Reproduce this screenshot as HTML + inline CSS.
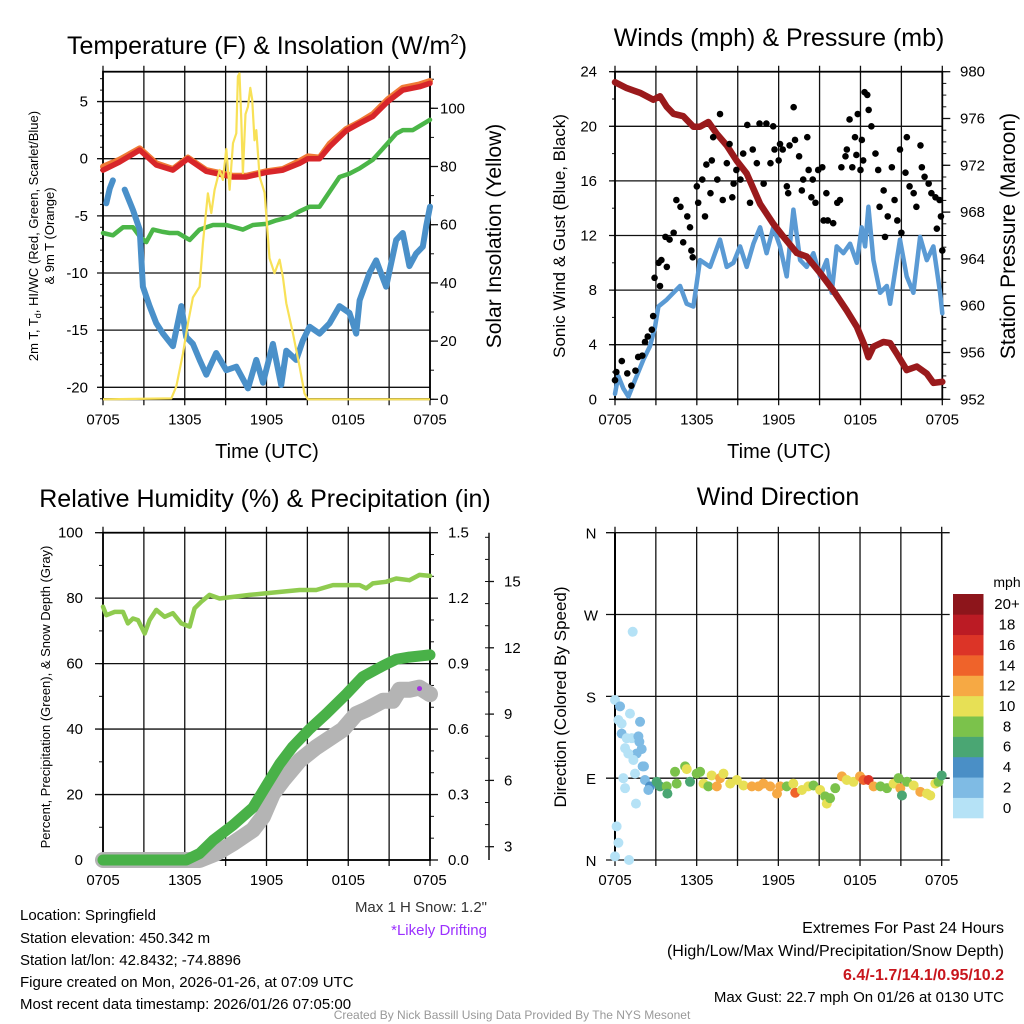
<!DOCTYPE html>
<html><head><meta charset="utf-8">
<style>
html,body{margin:0;padding:0;background:#fff;}
svg{display:block;font-family:"Liberation Sans",Arial,sans-serif;}
</style></head>
<body>
<svg id="chart" width="1024" height="1024" viewBox="0 0 1024 1024" xmlns="http://www.w3.org/2000/svg">
<rect x="0" y="0" width="1024" height="1024" fill="#fff"/>
<g id="p1"></g>
<g id="p2"></g>
<g id="p3"></g>
<g id="p4"></g>
<g id="txt" font-size="15" fill="#000">
<text x="267" y="54" text-anchor="middle" font-size="25">Temperature (F) &amp; Insolation (W/m<tspan font-size="15" dy="-10">2</tspan><tspan dy="10">)</tspan></text>
<text x="779" y="46" text-anchor="middle" font-size="25">Winds (mph) &amp; Pressure (mb)</text>
<text x="265" y="507" text-anchor="middle" font-size="25">Relative Humidity (%) &amp; Precipitation (in)</text>
<text x="778" y="505" text-anchor="middle" font-size="25">Wind Direction</text>
<text x="267" y="458" text-anchor="middle" font-size="20">Time (UTC)</text>
<text x="779" y="458" text-anchor="middle" font-size="20">Time (UTC)</text>
<text transform="translate(38,236) rotate(-90)" text-anchor="middle" font-size="13">2m T, T<tspan font-size="9" dy="3">d</tspan><tspan dy="-3">, HI/WC (Red, Green, Scarlet/Blue)</tspan></text>
<text transform="translate(54,236) rotate(-90)" text-anchor="middle" font-size="13">&amp; 9m T (Orange)</text>
<text transform="translate(501,236) rotate(-90)" text-anchor="middle" font-size="21">Solar Insolation (Yellow)</text>
<text transform="translate(565,236) rotate(-90)" text-anchor="middle" font-size="17">Sonic Wind &amp; Gust (Blue, Black)</text>
<text transform="translate(1015,236) rotate(-90)" text-anchor="middle" font-size="21">Station Pressure (Maroon)</text>
<text transform="translate(50,697) rotate(-90)" text-anchor="middle" font-size="13">Percent, Precipitation (Green), &amp; Snow Depth (Gray)</text>
<text transform="translate(566,697) rotate(-90)" text-anchor="middle" font-size="17">Direction (Colored By Speed)</text>
<text x="1007" y="587" text-anchor="middle" font-size="14">mph</text>
<text x="20" y="920">Location: Springfield</text>
<text x="20" y="943">Station elevation: 450.342 m</text>
<text x="20" y="965">Station lat/lon: 42.8432; -74.8896</text>
<text x="20" y="987">Figure created on Mon, 2026-01-26, at 07:09 UTC</text>
<text x="20" y="1009">Most recent data timestamp: 2026/01/26 07:05:00</text>
<text x="487" y="912" text-anchor="end" fill="#333">Max 1 H Snow: 1.2"</text>
<text x="487" y="935" text-anchor="end" fill="#9b30ff">*Likely Drifting</text>
<text x="1004" y="933" text-anchor="end" font-size="16">Extremes For Past 24 Hours</text>
<text x="1004" y="956" text-anchor="end" font-size="16">(High/Low/Max Wind/Precipitation/Snow Depth)</text>
<text x="1004" y="980" text-anchor="end" font-size="16" font-weight="bold" fill="#c8161d">6.4/-1.7/14.1/0.95/10.2</text>
<text x="1004" y="1002" text-anchor="end" font-size="15">Max Gust: 22.7 mph On 01/26 at 0130 UTC</text>
<text x="512" y="1019" text-anchor="middle" font-size="12" fill="#999">Created By Nick Bassill Using Data Provided By The NYS Mesonet</text>
</g>
</svg>
<script>
// ---------- Data ----------
const xTickLabels = ["0705","1305","1905","0105","0705"];
// Panel 1
const tempTicks = [5,0,-5,-10,-15,-20];
const solarTicks = [0,20,40,60,80,100];
const redT = [0,1.2,2.69,3.91,5.13,6.23,7.58,9.54,10.51,11.98,13.2,14.43,15.04,15.89,16.63,17.85,18.83,19.8,20.9,22.0,23.23,24];
const redV = [-1.0,-0.3,0.76,-0.55,-1.0,0,-1.1,-1.6,-1.6,-1.2,-1.0,-0.4,0,0,1.05,2.45,3.1,3.7,5.0,6.0,6.3,6.6];
const orangeV = [-0.7,-0.1,0.9,-0.4,-0.9,0.1,-1.0,-1.5,-1.5,-1.1,-0.9,-0.2,0.2,0.1,1.3,2.6,3.2,3.9,5.2,6.2,6.5,6.8];
const greenT = [0,0.73,1.47,2.2,2.69,3.18,3.67,4.4,4.89,5.5,6.36,7.09,8.07,9.05,10.27,11.0,11.98,12.71,13.69,14.43,15.16,15.89,16.63,17.36,18.09,18.83,19.8,20.78,21.52,22.0,22.74,24];
const greenV = [-6.5,-6.7,-6.0,-6.0,-6.8,-7.3,-6.2,-6.4,-6.5,-6.5,-7.1,-6.2,-5.8,-5.8,-6.2,-5.8,-5.7,-5.4,-5.1,-4.6,-4.2,-4.2,-2.9,-1.6,-1.3,-0.85,-0.1,1.2,2.2,2.5,2.5,3.4];
const blueT = [0.24,0.5,0.73,null,1.59,2.2,2.69,2.93,3.42,3.91,4.4,5.13,5.75,6.11,6.6,7.09,7.58,8.31,9.05,9.78,10.64,11.25,11.74,12.47,13.08,13.45,14.18,14.67,15.16,15.89,16.63,17.36,18.09,18.58,18.83,19.56,20.05,20.78,21.52,22.0,22.49,22.98,23.47,23.72,24];
const blueV = [-3.9,-2.6,-1.9,null,-2.7,-4.5,-6.2,-11.2,-12.9,-14.4,-15.3,-16.4,-12.9,-15.6,-16.2,-17.6,-18.9,-17.0,-18.5,-18.2,-20.1,-17.6,-19.6,-16.2,-19.8,-16.8,-17.6,-15.9,-14.7,-15.3,-14.4,-12.9,-13.5,-15.3,-12.4,-10.0,-8.9,-11.2,-7.1,-6.5,-9.4,-8.3,-7.7,-5.9,-4.2];
const solarT = [0,5.01,5.38,5.87,6.23,6.6,7.09,7.33,7.7,7.95,8.19,8.56,8.8,9.05,9.29,9.54,9.78,9.9,10.02,10.15,10.27,10.46,10.64,10.81,10.95,11.12,11.25,11.49,11.86,12.22,12.59,12.96,13.2,13.45,13.94,14.43,14.79,15.04,24];
const solarV = [0,0.3,4.4,15.8,26,35,38.7,53.6,70.8,64,72,78.8,75.4,86,72,88,91.4,111,112,96,77.7,98,100.6,107,103,89,92.5,76.5,71,48.5,43.3,48,42,33,22.7,11.2,2,0,0];
// Panel 2
const windTicks = [0,4,8,12,16,20,24];
const presTicks = [952,956,960,964,968,972,976,980];
const presT = [0,0.86,1.83,2.81,3.3,3.79,4.28,5.01,5.75,6.23,6.85,7.46,8.19,8.92,9.66,10.64,11.61,12.35,13.33,14.06,15.04,16.01,16.99,17.73,18.34,18.58,18.95,19.68,20.17,20.66,21.39,22.13,22.86,23.35,24];
const presV = [979.1,978.6,978.2,977.6,977.9,977.0,976.4,976.2,975.3,975.3,975.7,974.7,973.7,972.4,971.3,968.7,967.0,965.9,964.5,964.2,962.8,961.3,959.6,958.2,956.5,955.6,956.5,956.9,956.8,955.9,954.5,954.8,954.2,953.4,953.5];
const windT = [0,0.24,0.61,0.98,1.47,2.08,2.57,2.93,3.18,3.79,4.28,4.77,5.26,5.75,6.23,6.97,7.7,8.19,8.68,9.17,9.66,10.15,10.64,11.12,11.61,12.1,12.59,13.08,13.57,14.06,14.55,15.04,15.53,15.89,16.26,16.75,17.24,17.73,18.09,18.34,18.58,18.95,19.44,19.93,20.17,20.66,20.9,21.39,21.88,22.37,22.86,23.35,23.84,24];
const windV = [0.4,1.7,0.8,0.2,1.4,2.9,3.9,5.3,6.8,7.3,7.8,8.3,7.0,6.8,10.2,9.7,11.7,9.7,10.0,11.2,9.7,11.4,12.6,10.7,12.6,11.2,9.0,13.9,10.2,9.7,10.7,9.0,10.2,7.8,11.2,10.7,11.4,10.0,12.6,11.2,14.1,10.2,7.8,8.3,7.0,10.2,11.7,9.0,7.8,11.9,10.2,11.2,7.8,6.3];
const gustT = [0,0.1,0.5,0.9,1.2,1.5,1.7,2.0,2.2,2.4,2.7,2.8,2.9,3.2,3.3,3.4,3.7,3.8,4.0,4.3,4.5,4.8,5.0,5.3,5.5,5.6,5.7,6.0,6.1,6.4,6.6,6.7,7.0,7.1,7.2,7.5,7.7,7.9,8.2,8.4,8.6,8.7,8.9,9.2,9.4,9.7,9.9,10.1,10.4,10.6,10.9,11.1,11.4,11.6,11.7,12.0,12.1,12.3,12.6,12.7,12.8,13.1,13.2,13.5,13.7,13.8,14.1,14.2,14.4,14.5,14.7,14.9,15.2,15.3,15.5,15.6,16.0,16.3,16.5,16.6,16.9,17.0,17.2,17.4,17.6,17.7,17.8,18.0,18.1,18.2,18.3,18.5,18.6,18.8,19.1,19.3,19.4,19.7,19.8,20.0,20.3,20.5,20.7,20.9,21.0,21.3,21.4,21.6,21.9,22.1,22.4,22.5,22.7,23.0,23.2,23.5,23.6,23.8,23.9,24];
const gustV = [1.4,2.0,2.8,1.9,1.0,2.1,3.1,3.2,4.2,4.6,5.1,6.1,8.9,10.0,8.3,10.2,11.9,9.7,11.7,12.2,14.6,14.1,11.5,13.4,12.6,10.9,10.4,15.6,14.4,16.1,13.4,17.2,15.1,17.5,19.2,16.1,20.9,14.6,17.3,18.7,14.8,15.8,16.8,16.1,18.0,20.1,14.4,18.3,17.3,20.2,15.8,20.2,17.3,20.0,18.3,17.5,18.7,18.3,15.6,15.1,18.6,21.4,19.0,17.8,15.3,16.1,19.2,16.8,14.8,16.1,14.4,16.8,17.0,13.1,15.1,13.1,12.9,14.4,14.6,17.0,17.8,18.3,20.5,17.0,19.2,17.9,20.9,16.8,19.0,17.5,22.5,22.3,21.2,20.0,18.0,16.8,14.1,15.3,11.9,13.4,17.0,14.6,13.1,18.3,12.2,16.6,19.2,15.6,15.1,14.1,18.6,17.0,16.3,15.8,15.1,14.8,12.5,14.6,13.4,10.9];
// Panel 3
const pctTicks = [0,20,40,60,80,100];
const precipTicks = ["0.0","0.3","0.6","0.9","1.2","1.5"];
const snowTicks = [3,6,9,12,15];
const rhT = [0,0.24,0.86,1.47,1.83,2.2,2.57,3.06,3.42,3.91,4.52,5.13,5.75,6.36,6.72,7.21,7.82,8.56,9.54,10.76,11.98,13.2,14.43,15.65,16.87,18.09,18.83,19.32,19.8,20.78,21.52,22.49,23.23,24];
const rhV = [77.4,74.8,75.8,75.8,72.3,73.8,73.3,69.2,73.3,76.4,74.3,75.4,72.3,71.3,76.9,78.9,81.0,79.9,80.4,81.0,81.5,82.0,82.5,82.5,84.0,84.0,84.0,83.0,84.5,85.0,86.0,85.5,87.1,86.8];
const precipT = [0,6.11,7.09,8.07,9.54,11.0,11.98,12.96,13.94,15.16,16.38,17.85,19.07,20.54,21.52,22.49,24];
const precipV = [0,0,0.03,0.09,0.16,0.24,0.34,0.44,0.52,0.60,0.67,0.76,0.84,0.89,0.92,0.93,0.94];
const snowT = [0,7.09,8.31,9.54,11.0,11.74,12.47,13.2,14.43,15.65,16.87,17.6,18.58,19.32,20.54,21.27,21.76,22.49,23.23,24];
const snowV = [2.4,2.4,2.7,3.15,3.76,4.36,5.4,6.0,6.9,7.5,8.0,8.3,9.0,9.2,9.6,9.6,10.1,10.1,10.2,9.9];
const driftT = [23.23];
const driftV = [10.2];
// Panel 4
const dirLabels = ["N","E","S","W","N"];
const dirTicks = [0,90,180,270,360];
const speedLevels = ["0","2","4","6","8","10","12","14","16","18","20+"];
const speedColors = ["#b5e2f6","#7fbbe4","#4a8fc6","#4aa673","#7bc24b","#e7e055","#f6a944","#ef632a","#dc3427","#bb1b24","#8d151b"];
const dirT = [0,0.37,1.1,0.25,0.49,1.84,0.49,0.86,1.23,1.72,1.79,0.74,1.59,1.96,0.98,1.35,2.03,2.13,1.47,0.61,0.74,1.54,0.12,0.25,0,1.03,1.3,
 2.2,2.57,2.45,3.06,3.31,3.8,3.85,4.41,4.53,5.15,5.27,5.51,6.0,6.25,6.5,6.86,7.1,7.48,7.72,7.97,8.46,8.95,9.44,10.05,10.54,10.9,11.4,11.9,12.13,12.62,13.1,13.24,13.73,14.2,14.58,15.07,15.44,15.56,15.8,16.18,16.67,17.03,17.52,18.0,18.26,18.63,19.0,19.5,19.98,20.47,20.83,20.96,21.08,21.45,21.94,22.43,22.92,23.16,23.53,23.77,24];
const dirV = [176,169,161,154,150,152,139,134,134,136,130,123,117,122,117,110,103,103,95,90,79,62,37,19,4,0,251,
 88,81,77,86,81,81,73,97,84,103,100,86,95,97,84,81,93,81,90,95,84,88,82,81,81,84,81,73,81,81,84,74,77,81,82,77,70,62,68,79,92,88,86,92,88,88,81,81,79,84,90,79,71,86,82,75,73,71,84,86,93];
const dirSpd = [0,2,0,0,0,2,2,0,0,2,2,0,2,2,0,0,2,2,0,0,0,0,0,0,0,0,0,
 2,4,2,6,6,8,6,8,8,8,10,6,8,8,10,8,10,12,12,10,10,10,10,12,12,12,12,12,12,8,10,14,10,10,8,10,8,10,8,8,12,10,10,12,14,16,12,8,8,10,8,12,6,8,10,12,10,10,10,8,6];

// ---------- Helpers ----------
const NS = "http://www.w3.org/2000/svg";
function mk(parent, tag, attrs, text) {
  const e = document.createElementNS(NS, tag);
  for (const k in attrs) e.setAttribute(k, attrs[k]);
  if (text !== undefined) e.textContent = text;
  parent.appendChild(e);
  return e;
}
function lin(d0, d1, r0, r1) { return v => r0 + (v - d0) * (r1 - r0) / (d1 - d0); }
function pathD(ts, vs, sx, sy) {
  let d = "", pen = false;
  for (let i = 0; i < ts.length; i++) {
    if (ts[i] === null || vs[i] === null) { pen = false; continue; }
    d += (pen ? "L" : "M") + sx(ts[i]).toFixed(1) + "," + sy(vs[i]).toFixed(1);
    pen = true;
  }
  return d;
}
function frame(g, x0, x1, y0, y1, sx, topTicks) {
  for (let h = 0; h <= 24; h += 3) {
    const l = mk(g, "line", {x1: sx(h), x2: sx(h), y1: topTicks ? y0 - 6 : y0, y2: y1 + 6, stroke: "#111", "stroke-width": 1.3});
    
    
  }
  xTickLabels.forEach((lab, i) => {
    const t = mk(g, "text", {x: sx(i * 6), y: y1 + 25, "text-anchor": "middle", "font-size": 15}, lab);
    
    
  });
}

// ---------- Panel 1 ----------
(function () {
  const g = document.getElementById("p1");
  const X0 = 103, X1 = 430, Y0 = 71.7, Y1 = 399.3;
  const sx = lin(0, 24, X0, X1);
  const sy = lin(0, -20, 158.7, 387.3);
  const ss = lin(0, 100, 399.3, 108.3);
  frame(g, X0, X1, Y0, Y1, sx, true);
  tempTicks.forEach(v => {
    const l = mk(g, "line", {x1: X0 - 6, x2: X1, y1: sy(v), y2: sy(v), stroke: "#111", "stroke-width": 1.3});
    
    
    const t = mk(g, "text", {x: 88, y: sy(v) + 5, "text-anchor": "end", "font-size": 15}, String(v));
    
    
  });
  for (let v = -21; v <= 7; v++) mk(g, "line", {x1: X0 - 3, x2: X0, y1: sy(v), y2: sy(v), stroke: "#111"});
  solarTicks.forEach(v => {
    mk(g, "line", {x1: X1, x2: X1 + 8, y1: ss(v), y2: ss(v), stroke: "#111", "stroke-width": 1.3});
    const t = mk(g, "text", {x: 440, y: ss(v) + 5, "font-size": 15}, String(v));
    
    
  });
  for (let v = 0; v <= 110; v += 10) mk(g, "line", {x1: X1, x2: X1 + 4, y1: ss(v), y2: ss(v), stroke: "#111"});
  mk(g, "rect", {x: X0, y: Y0, width: X1 - X0, height: Y1 - Y0, fill: "none", stroke: "#000", "stroke-width": 1.8});
  mk(g, "line", {x1: X0, x2: X1, y1: sy(-21), y2: sy(-21), stroke: "#111", "stroke-width": 1.2});
  const o = mk(g, "path", {d: pathD(redT, orangeV, sx, sy), fill: "none", stroke: "#f07a36", "stroke-width": 6, "stroke-linejoin": "round", "stroke-linecap": "round"});
  
  
  const r = mk(g, "path", {d: pathD(redT, redV, sx, sy), fill: "none", stroke: "#d8262a", "stroke-width": 5.5, "stroke-linejoin": "round", "stroke-linecap": "round"});
  
  
  const gr = mk(g, "path", {d: pathD(greenT, greenV, sx, sy), fill: "none", stroke: "#4bb648", "stroke-width": 4.5, "stroke-linejoin": "round", "stroke-linecap": "round"});
  
  
  const b = mk(g, "path", {d: pathD(blueT, blueV, sx, sy), fill: "none", stroke: "#4a90c9", "stroke-width": 6, "stroke-linejoin": "round", "stroke-linecap": "round"});
  
  
  const y = mk(g, "path", {d: pathD(solarT, solarV, sx, ss), fill: "none", stroke: "#f8e157", "stroke-width": 2.2, "stroke-linejoin": "round"});
  
  
})();

// ---------- Panel 2 ----------
(function () {
  const g = document.getElementById("p2");
  const X0 = 615, X1 = 942.3, Y0 = 71.7, Y1 = 399.3;
  const sx = lin(0, 24, X0, X1);
  const sy = lin(0, 24, Y1, Y0);
  const sp = lin(952, 980, Y1, Y0);
  frame(g, X0, X1, Y0, Y1, sx, true);
  windTicks.forEach(v => {
    mk(g, "line", {x1: X0 - 6, x2: X1, y1: sy(v), y2: sy(v), stroke: "#111", "stroke-width": 1.3});
    const t = mk(g, "text", {x: 597, y: sy(v) + 5, "text-anchor": "end", "font-size": 15}, String(v));
    
    
  });
  for (let v = 0; v <= 24; v += 2) mk(g, "line", {x1: X0 - 3, x2: X0, y1: sy(v), y2: sy(v), stroke: "#111"});
  presTicks.forEach(v => {
    mk(g, "line", {x1: X1, x2: X1 + 8, y1: sp(v), y2: sp(v), stroke: "#111", "stroke-width": 1.3});
    const t = mk(g, "text", {x: 960, y: sp(v) + 5, "font-size": 15}, String(v));
    
    
  });
  for (let v = 952; v <= 980; v++) mk(g, "line", {x1: X1, x2: X1 + 4, y1: sp(v), y2: sp(v), stroke: "#111"});
  mk(g, "rect", {x: X0, y: Y0, width: X1 - X0, height: Y1 - Y0, fill: "none", stroke: "#000", "stroke-width": 1.8});
  const w = mk(g, "path", {d: pathD(windT, windV, sx, sy), fill: "none", stroke: "#5a9ad4", "stroke-width": 4.5, "stroke-linejoin": "round", "stroke-linecap": "round"});
  
  
  const p = mk(g, "path", {d: pathD(presT, presV, sx, sp), fill: "none", stroke: "#9a1a1c", "stroke-width": 6.5, "stroke-linejoin": "round", "stroke-linecap": "round"});
  
  
  gustT.forEach((t, i) => {
    const c = mk(g, "circle", {cx: sx(t), cy: sy(gustV[i]), r: 3.3, fill: "#000"});
    
    
  });
})();

// ---------- Panel 3 ----------
(function () {
  const g = document.getElementById("p3");
  const X0 = 103, X1 = 430, Y0 = 532.7, Y1 = 860;
  const sx = lin(0, 24, X0, X1);
  const sy = lin(0, 100, Y1, Y0);
  const spr = lin(0, 1.5, Y1, Y0);
  const ssn = lin(0, 3, 913, 846.7);
  frame(g, X0, X1, Y0, Y1, sx, true);
  pctTicks.forEach(v => {
    mk(g, "line", {x1: X0 - 8, x2: X1, y1: sy(v), y2: sy(v), stroke: "#111", "stroke-width": 1.3});
    const t = mk(g, "text", {x: 83, y: sy(v) + 5, "text-anchor": "end", "font-size": 15}, String(v));
    
    
  });
  for (let v = 0; v <= 100; v += 10) mk(g, "line", {x1: X0 - 4, x2: X0, y1: sy(v), y2: sy(v), stroke: "#111"});
  precipTicks.forEach(s => {
    const v = parseFloat(s);
    mk(g, "line", {x1: X1, x2: X1 + 8, y1: spr(v), y2: spr(v), stroke: "#111", "stroke-width": 1.3});
    const t = mk(g, "text", {x: 448, y: spr(v) + 5, "font-size": 15}, s);
    
    
  });
  for (let v = 0; v <= 1.5; v += 0.1) mk(g, "line", {x1: X1, x2: X1 + 4, y1: spr(v), y2: spr(v), stroke: "#111"});
  const sa = mk(g, "line", {x1: 489, x2: 489, y1: Y0, y2: Y1, stroke: "#111", "stroke-width": 1.5});
  
  
  snowTicks.forEach(v => {
    mk(g, "line", {x1: 489, x2: 494, y1: ssn(v), y2: ssn(v), stroke: "#111", "stroke-width": 1.3});
    const t = mk(g, "text", {x: 504, y: ssn(v) + 5, "font-size": 15}, String(v));
    
    
  });
  for (let v = 3; v <= 17; v++) mk(g, "line", {x1: 485, x2: 489, y1: ssn(v), y2: ssn(v), stroke: "#111"});
  mk(g, "rect", {x: X0, y: Y0, width: X1 - X0, height: Y1 - Y0, fill: "none", stroke: "#000", "stroke-width": 1.8});
  const s = mk(g, "path", {d: pathD(snowT, snowV, sx, ssn), fill: "none", stroke: "#b4b4b4", "stroke-width": 16, "stroke-linejoin": "round", "stroke-linecap": "round"});
  
  
  const pr = mk(g, "path", {d: pathD(precipT, precipV, sx, spr), fill: "none", stroke: "#49b148", "stroke-width": 11, "stroke-linejoin": "round", "stroke-linecap": "round"});
  
  
  const rh = mk(g, "path", {d: pathD(rhT, rhV, sx, sy), fill: "none", stroke: "#8fcb4f", "stroke-width": 4.5, "stroke-linejoin": "round", "stroke-linecap": "round"});
  
  
  driftT.forEach((t, i) => {
    const c = mk(g, "circle", {cx: sx(t), cy: ssn(driftV[i]) + 1, r: 2.5, fill: "#a22ee0"});
    
    
  });
})();

// ---------- Panel 4 ----------
(function () {
  const g = document.getElementById("p4");
  const X0 = 615, X1 = 941.7, Y0 = 532.7, Y1 = 860;
  const sx = lin(0, 24, X0, X1);
  const sy = lin(0, 360, Y1, Y0);
  frame(g, X0, X1, Y0, Y1, sx, true);
  dirTicks.forEach((v, i) => {
    mk(g, "line", {x1: X0 - 9, x2: X1 + 8, y1: sy(v), y2: sy(v), stroke: "#111", "stroke-width": 1.3});
    const t = mk(g, "text", {x: 591, y: sy(v) + 6, "text-anchor": "middle", "font-size": 15}, dirLabels[i]);
    
    
  });
  mk(g, "line", {x1: X0, x2: X0, y1: Y0, y2: Y1, stroke: "#000", "stroke-width": 2});
  mk(g, "line", {x1: X1, x2: X1, y1: Y0, y2: Y1, stroke: "#111", "stroke-width": 1.5});
  dirT.forEach((t, i) => {
    const ci = Math.min(10, Math.round(dirSpd[i] / 2));
    const c = mk(g, "circle", {cx: sx(t), cy: sy(dirV[i]), r: 5, fill: speedColors[ci]});
    
    
  });
  const cb = mk(g, "g", {});
  
  
  const top = 594, bot = 818, h = (bot - top) / speedLevels.length;
  speedLevels.forEach((lab, i) => {
    const yy = bot - (i + 1) * h;
    const r = mk(cb, "rect", {x: 953, y: yy, width: 30.5, height: h + 0.3, fill: speedColors[i]});
    
    
    const t = mk(cb, "text", {x: 1007, y: yy + h / 2 + 5, "text-anchor": "middle", "font-size": 15}, lab);
    
    
  });
})();
</script>
</body></html>
